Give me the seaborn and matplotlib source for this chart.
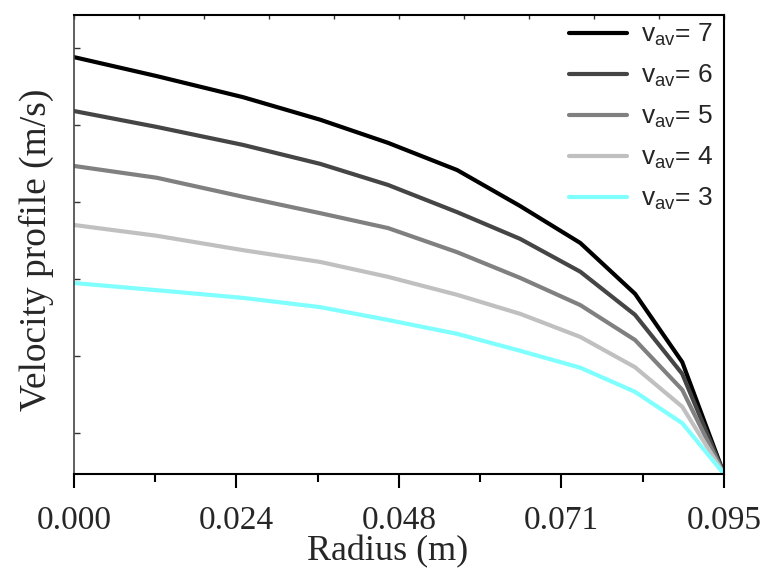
import numpy as np
import pandas as pd
import matplotlib
matplotlib.use("Agg")
import matplotlib.pyplot as plt
from matplotlib.ticker import FixedLocator, NullFormatter
import seaborn as sns

# Radial positions (m) from pipe centre to wall
radius = [0.0, 0.0121, 0.0247, 0.0360, 0.0459, 0.0560, 0.0652, 0.0740, 0.0820, 0.0889, 0.095]

# Velocity profiles (m/s) for each mean velocity
v7 = [8.12, 7.75, 7.34, 6.90, 6.45, 5.92, 5.22, 4.50, 3.51, 2.18, 0.0]
v6 = [7.07, 6.76, 6.41, 6.04, 5.63, 5.10, 4.58, 3.94, 3.10, 1.95, 0.0]
v5 = [6.00, 5.77, 5.40, 5.08, 4.79, 4.32, 3.82, 3.29, 2.61, 1.64, 0.0]
v4 = [4.85, 4.64, 4.36, 4.13, 3.84, 3.49, 3.12, 2.67, 2.08, 1.31, 0.0]
v3 = [3.72, 3.58, 3.43, 3.25, 3.00, 2.73, 2.40, 2.07, 1.60, 0.99, 0.0]

series_labels = [r"v$\mathregular{_{av}}$= 7", r"v$\mathregular{_{av}}$= 6",
                 r"v$\mathregular{_{av}}$= 5", r"v$\mathregular{_{av}}$= 4",
                 r"v$\mathregular{_{av}}$= 3"]
series_values = [v7, v6, v5, v4, v3]
line_colors = ["#000000", "#454545", "#808080", "#c0c0c0", "#80ffff"]

x_tick_values = [0.0, 0.02375, 0.0475, 0.07125, 0.095]
x_tick_labels = ["0.000", "0.024", "0.048", "0.071", "0.095"]

frames = [pd.DataFrame({"Radius": radius, "Velocity": vals, "Series": lab})
          for lab, vals in zip(series_labels, series_values)]
df = pd.concat(frames, ignore_index=True)

sns.set_style("white")
plt.rcParams["mathtext.fontset"] = "custom"
plt.rcParams["mathtext.rm"] = "Liberation Sans"

fig = plt.figure(figsize=(7.62, 5.69), dpi=100)
ax = fig.add_axes([0.0971, 0.167, 0.853, 0.8066])

sns.lineplot(data=df, x="Radius", y="Velocity", hue="Series",
             hue_order=series_labels, palette=line_colors,
             linewidth=3, ax=ax, legend=True, sort=False)

ax.set_xlim(0, 0.095)
ax.set_ylim(0, 8.94)

# Bottom axis: labelled major ticks, minor ticks midway, pointing out
ax.xaxis.set_major_locator(FixedLocator(x_tick_values))
ax.set_xticklabels(x_tick_labels, family="Liberation Serif", fontsize=24)
minor_x = [(a + b) / 2 for a, b in zip(x_tick_values[:-1], x_tick_values[1:])]
ax.xaxis.set_minor_locator(FixedLocator(minor_x))
ax.tick_params(axis="x", which="major", direction="out", length=10, width=1.5,
               color="black", bottom=True, pad=13)
ax.tick_params(axis="x", which="minor", direction="out", length=6, width=1.5,
               color="black", bottom=True)

# Left axis: short inward ticks without labels
ax.yaxis.set_major_locator(FixedLocator(np.arange(0.8, 8.9, 1.5)))
ax.yaxis.set_major_formatter(NullFormatter())
ax.tick_params(axis="y", which="major", direction="in", length=4, width=1,
               color="#333333", left=True)

# Top axis: inward ticks dividing the radius into ten parts
top = ax.secondary_xaxis("top")
top.xaxis.set_major_locator(FixedLocator(np.linspace(0, 0.095, 11)))
top.xaxis.set_major_formatter(NullFormatter())
top.tick_params(direction="in", length=3, width=1, color="#333333")
top.spines["top"].set_visible(False)

for side in ["left", "right", "top", "bottom"]:
    ax.spines[side].set_visible(True)
    ax.spines[side].set_color("black")
    ax.spines[side].set_linewidth(1.5)
ax.spines["left"].set_color("#444444")
ax.spines["left"].set_linewidth(1.2)

ax.set_xlabel("Radius (m)", family="Liberation Serif", fontsize=26)
ax.xaxis.set_label_coords(0.482, -0.134)
ax.set_ylabel("Velocity profile (m/s)", family="Liberation Serif", fontsize=27)
ax.yaxis.set_label_coords(-0.03, 0.488)

leg = ax.legend(loc="upper right", frameon=False,
                prop={"family": "Liberation Sans", "size": 19},
                handlelength=2.2, handletextpad=0.55, labelspacing=0.56,
                borderaxespad=0.0, bbox_to_anchor=(1.0, 1.008))
for line in leg.get_lines():
    line.set_linewidth(3)

fig.savefig("out.png", dpi=100, facecolor="white")
